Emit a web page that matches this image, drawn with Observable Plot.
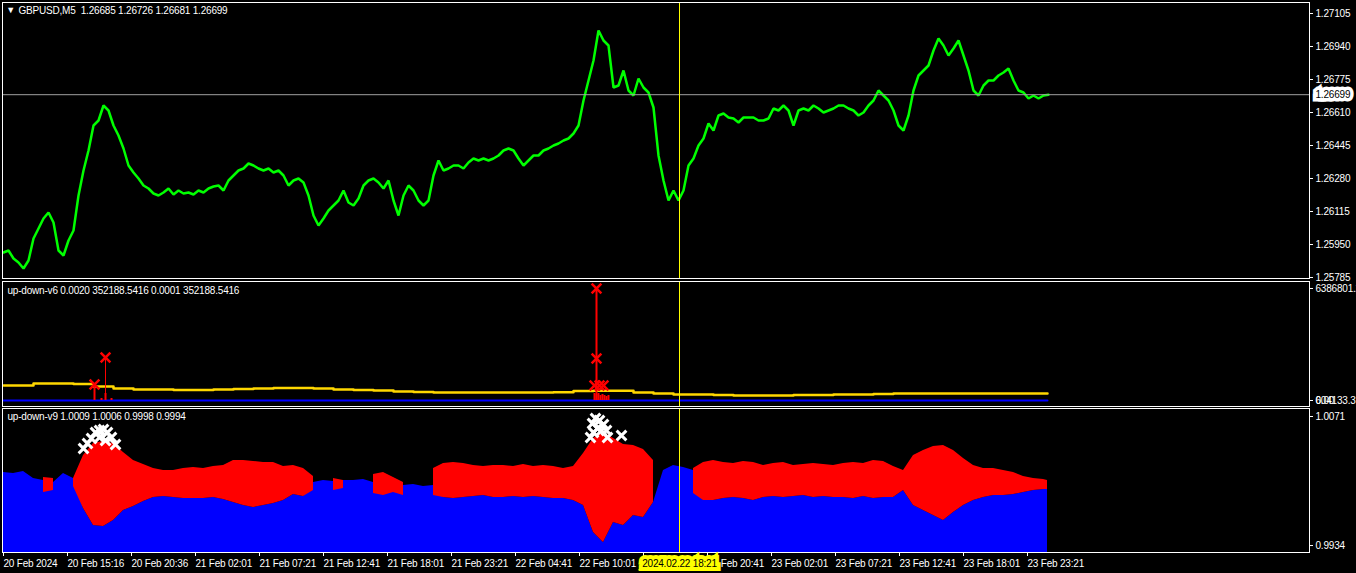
<!DOCTYPE html>
<html><head><meta charset="utf-8">
<script src="https://cdn.jsdelivr.net/npm/d3@7"></script>
<script src="https://cdn.jsdelivr.net/npm/@observablehq/plot@0.6"></script>
<style>
html,body{margin:0;padding:0;background:#000;overflow:hidden;}
#chart{position:relative;width:1356px;height:573px;background:#000;overflow:hidden;}
#chart svg{position:absolute;left:0;overflow:visible;}
#chart svg text{white-space:pre;letter-spacing:-0.2px;}
</style></head><body><div id="chart"></div>
<script>
// ---------- main pane: GBPUSD M5 ----------
const mainTitle = "GBPUSD,M5  1.26685 1.26726 1.26681 1.26699";
const priceBars = d3.range(210).map(k => 1 + 5 * k);
const priceClose = [
1.25910,1.25920,1.25880,1.25860,1.25830,1.25870,1.25980,1.26030,1.26080,1.26110,
1.26060,1.25920,1.25895,1.25970,1.26020,1.26195,1.26320,1.26420,1.26545,1.26570,
1.26645,1.26620,1.26545,1.26495,1.26430,1.26345,1.26310,1.26280,1.26245,1.26230,
1.26205,1.26195,1.26210,1.26230,1.26200,1.26220,1.26205,1.26210,1.26200,1.26220,
1.26210,1.26230,1.26240,1.26245,1.26220,1.26270,1.26295,1.26320,1.26330,1.26355,
1.26345,1.26330,1.26320,1.26330,1.26310,1.26320,1.26295,1.26245,1.26270,1.26280,
1.26260,1.26195,1.26095,1.26045,1.26080,1.26120,1.26145,1.26170,1.26220,1.26160,
1.26145,1.26180,1.26245,1.26270,1.26280,1.26260,1.26230,1.26270,1.26170,1.26095,
1.26195,1.26245,1.26220,1.26170,1.26145,1.26170,1.26295,1.26370,1.26320,1.26330,
1.26345,1.26345,1.26330,1.26360,1.26380,1.26370,1.26380,1.26370,1.26380,1.26395,
1.26420,1.26430,1.26420,1.26380,1.26345,1.26370,1.26395,1.26395,1.26420,1.26430,
1.26445,1.26455,1.26470,1.26480,1.26505,1.26545,1.26670,1.26770,1.26870,
1.27020,1.26970,1.26945,1.26735,1.26745,1.26820,1.26720,1.26695,1.26780,1.26735,
1.26710,1.26635,1.26395,1.26270,1.26170,1.26220,1.26170,1.26220,1.26345,1.26380,
1.26445,1.26480,1.26555,1.26520,1.26595,1.26605,1.26585,1.26580,1.26560,1.26585,
1.26585,1.26585,1.26570,1.26570,1.26580,1.26630,1.26620,1.26645,1.26620,1.26545,
1.26620,1.26630,1.26620,1.26645,1.26630,1.26610,1.26620,1.26630,1.26645,1.26645,
1.26630,1.26620,1.26595,1.26610,1.26645,1.26670,1.26720,1.26695,1.26670,1.26620,
1.26545,1.26520,1.26595,1.26720,1.26795,1.26820,1.26845,1.26920,1.26980,1.26945,
1.26895,1.26930,1.26970,1.26895,1.26820,1.26720,1.26695,1.26745,1.26770,1.26770,
1.26795,1.26810,1.26830,1.26770,1.26720,1.26710,1.26680,1.26695,1.26680,1.26695,
1.26699];
const priceTicks = [1.27105,1.26940,1.26775,1.26610,1.26445,1.26280,1.26115,1.25950,1.25785];
const lastPrice = 1.26699;
const crossBar = 677;
const crossLabel = "2024.02.22 18:21";

// ---------- pane 2: up-down-v6 ----------
const v6Title = "up-down-v6 0.0020 352188.5416 0.0001 352188.5416";
const v6YellowBars = d3.range(52).map(k => 1 + 20 * k).concat([1045]);
const v6Yellow = [855000,855000,969000,969000,941000,798000,684000,627000,627000,599000,
599000,627000,656000,684000,713000,713000,684000,627000,599000,570000,
513000,485000,456000,456000,456000,456000,456000,456000,473000,542000,
553000,553000,456000,399000,342000,342000,314000,285000,285000,285000,
314000,314000,342000,342000,371000,399000,399000,399000,399000,399000,
399000,399000,399000];
const v6BlueBars = [1, 1045];
const v6Blue = [0, 0];
const v6ThickBars = [92, 594];
const v6ThickVals = [912000, 6386801.2];
const v6ThinBars = [103];
const v6ThinVals = [2452000];
const v6HistBars = [99, 103, 109, 592, 594, 596, 598, 600, 602, 604, 606];
const v6HistVals = [114000, 399000, 114000, 399000, 342000, 399000, 285000, 342000, 285000, 228000, 285000];
const v6CrossBars = [92, 103, 594, 594, 592, 597, 601];
const v6CrossVals = [912000, 2452000, 6386801.2, 2395000, 855000, 855000, 855000];
const v6Ticks = [0, 6386801.2];
const v6TickText = ["0.00", "6386801.2"];
const v6Extra = "604133.3";

// ---------- pane 3: up-down-v9 ----------
const v9Title = "up-down-v9 1.0009 1.0006 0.9998 0.9994";
const v9Bars = d3.range(105).map(k => 1 + 10 * k).concat([1045]);
const v9Blue = [
1.00115,1.00105,1.00126,1.00052,1.00030,1.00009,1.00105,1.00052,0.99733,0.99552,
0.99542,0.99606,0.99712,0.99754,0.99807,0.99850,0.99860,0.99850,0.99839,0.99839,
0.99839,0.99850,0.99829,0.99797,0.99765,0.99744,0.99765,0.99786,0.99818,0.99882,
0.99860,1.00009,1.00030,1.00020,1.00030,1.00030,1.00041,1.00009,1.00009,0.99998,
0.99977,0.99988,0.99967,0.99977,0.99850,0.99839,0.99850,0.99860,0.99871,0.99850,
0.99850,0.99860,0.99850,0.99860,0.99850,0.99839,0.99839,0.99818,0.99765,0.99478,
0.99372,0.99584,0.99552,0.99659,0.99637,0.99797,1.00137,1.00190,1.00168,1.00137,
0.99818,0.99818,0.99839,0.99850,0.99839,0.99818,0.99850,0.99860,0.99850,0.99860,
0.99871,0.99850,0.99860,0.99850,0.99850,0.99839,0.99860,0.99839,0.99850,0.99850,
0.99924,0.99765,0.99712,0.99659,0.99606,0.99690,0.99765,0.99818,0.99850,0.99871,
0.99871,0.99882,0.99903,0.99924,0.99935,0.99935];
const v9RedHigh = [
null,null,null,null,1.00062,1.00052,null,1.00052,1.00296,1.00423,
1.00445,1.00423,1.00328,1.00243,1.00200,1.00158,1.00137,1.00137,1.00158,1.00168,
1.00158,1.00179,1.00190,1.00243,1.00243,1.00232,1.00222,1.00222,1.00179,1.00190,
1.00158,1.00073,null,1.00052,1.00030,null,null,1.00094,1.00115,1.00062,
1.00009,null,null,1.00158,1.00211,1.00222,1.00211,1.00190,1.00179,1.00190,
1.00190,1.00179,1.00200,1.00179,1.00190,1.00179,1.00158,1.00179,1.00317,1.00476,
1.00540,1.00476,1.00413,1.00402,1.00360,1.00243,null,null,null,1.00158,
1.00222,1.00243,1.00222,1.00211,1.00232,1.00222,1.00190,1.00211,1.00222,1.00190,
1.00200,1.00211,1.00200,1.00190,1.00211,1.00222,1.00211,1.00243,1.00232,1.00179,
1.00137,1.00296,1.00349,1.00391,1.00402,1.00349,1.00264,1.00190,1.00158,1.00158,
1.00137,1.00115,1.00073,1.00052,1.00041,1.00030];
const v9RedLow = [
null,null,null,null,0.99903,0.99924,null,0.99967,0.99733,0.99552,
0.99542,0.99606,0.99712,0.99754,0.99807,0.99850,0.99860,0.99850,0.99839,0.99839,
0.99839,0.99850,0.99829,0.99797,0.99765,0.99744,0.99765,0.99786,0.99818,0.99882,
0.99860,0.99924,null,0.99924,0.99945,null,null,0.99892,0.99871,0.99903,
0.99871,null,null,0.99871,0.99850,0.99839,0.99850,0.99860,0.99871,0.99850,
0.99850,0.99860,0.99850,0.99860,0.99850,0.99839,0.99839,0.99818,0.99765,0.99478,
0.99372,0.99584,0.99552,0.99659,0.99637,0.99797,null,null,null,0.99892,
0.99818,0.99818,0.99839,0.99850,0.99839,0.99818,0.99850,0.99860,0.99850,0.99860,
0.99871,0.99850,0.99860,0.99850,0.99850,0.99839,0.99860,0.99839,0.99850,0.99850,
0.99924,0.99765,0.99712,0.99659,0.99606,0.99690,0.99765,0.99818,0.99850,0.99871,
0.99871,0.99882,0.99903,0.99924,0.99935,0.99935];
const v9CrossBars = [81,85,89,93,97,101,105,109,113,97,103, 588,590,593,597,601,599,595,604,605,619,591];
const v9CrossVals = [1.00370,1.00423,1.00476,1.00540,1.00561,1.00572,1.00540,1.00487,1.00413,1.00487,1.00455,
1.00487,1.00636,1.00689,1.00668,1.00625,1.00561,1.00583,1.00561,1.00487,1.00508,1.00540];
const v9Ticks = [1.0071, 0.9934];

// ---------- time axis ----------
const timeTickBars = d3.range(17).map(k => 1 + 64 * k);
const timeTickLabels = ["20 Feb 2024","20 Feb 15:16","20 Feb 20:36","21 Feb 02:01","21 Feb 07:21",
"21 Feb 12:41","21 Feb 18:01","21 Feb 23:21","22 Feb 04:41","22 Feb 10:01","22 Feb 15:21",
"22 Feb 20:41","23 Feb 02:01","23 Feb 07:21","23 Feb 12:41","23 Feb 18:01","23 Feb 23:21"];

// ---------- build ----------
const FONT = "'Liberation Sans', Arial, sans-serif";
const GREEN = "#00ff00", GOLD = "#ffd700", BLUE = "#0000ff", RED = "#ff0000", CROSS = "#ffff00";
const xDomain = [0, 1307];
const zip = (xs, ys) => xs.map((x, i) => ({x, y: ys[i]}));

function pane(top, height, mt, mb, yDomain, marks, showX) {
  const svg = Plot.plot({
    width: 1356, height, marginLeft: 2, marginRight: 47, marginTop: mt, marginBottom: mb,
    x: showX ? {domain: xDomain} : {domain: xDomain, axis: null},
    y: {domain: yDomain},
    style: {background: "transparent", color: "white", fontFamily: FONT, fontSize: "10px", overflow: "visible"},
    marks
  });
  svg.style.top = top + "px";
  document.getElementById("chart").appendChild(svg);
}

const rightAxis = (ticks, fmt) => Plot.axisY({anchor: "right", ticks, tickFormat: fmt, tickSize: 3, tickPadding: 3,
  stroke: "white", fill: "white", label: null});
const title = (txt, dx, dy) => Plot.text([txt], {frameAnchor: "top-left", dx, dy, textAnchor: "start",
  lineAnchor: "middle", fill: "white"});

// main pane
pane(0, 280, 2, 2, [1.2578, 1.2716], [
  Plot.line(zip(priceBars, priceClose), {x: "x", y: "y", stroke: GREEN, strokeWidth: 2.5, strokeLinejoin: "miter"}),
  Plot.ruleY([lastPrice], {stroke: "#a0a0a0"}),
  Plot.ruleX([crossBar], {stroke: CROSS}),
  Plot.frame({stroke: "white"}),
  rightAxis(priceTicks, d => d.toFixed(5)),
  Plot.text([lastPrice], {y: d => d, text: d => d.toFixed(5), frameAnchor: "right", dx: 6, textAnchor: "start",
    lineAnchor: "middle", fill: "black", stroke: "white", strokeWidth: 7, strokeLinejoin: "miter", paintOrder: "stroke"}),
  Plot.text(["▼"], {frameAnchor: "top-left", dx: 8, dy: 8, fontSize: 9, lineAnchor: "middle", textAnchor: "middle", fill: "white"}),
  title(mainTitle, 16, 8)
]);

// pane 2
pane(279, 129, 2, 2, [-342150, 6785975], [
  Plot.line(zip(v6YellowBars, v6Yellow), {x: "x", y: "y", stroke: GOLD, strokeWidth: 2.5, curve: "step"}),
  Plot.line(zip(v6BlueBars, v6Blue), {x: "x", y: "y", stroke: BLUE, strokeWidth: 2}),
  Plot.ruleX(zip(v6HistBars, v6HistVals), {x: "x", y1: 0, y2: "y", stroke: RED, strokeWidth: 2}),
  Plot.ruleX(zip(v6ThickBars, v6ThickVals), {x: "x", y1: 0, y2: "y", stroke: RED, strokeWidth: 2}),
  Plot.ruleX(zip(v6ThinBars, v6ThinVals), {x: "x", y1: 0, y2: "y", stroke: RED, strokeWidth: 1}),
  Plot.dot(zip(v6CrossBars, v6CrossVals), {x: "x", y: "y", symbol: "times", r: 4.5, stroke: RED, strokeWidth: 2.5}),
  Plot.ruleX([crossBar], {stroke: CROSS}),
  Plot.frame({stroke: "white"}),
  Plot.text([0], {y: d => d, text: () => v6Extra, frameAnchor: "right", dx: 6, textAnchor: "start", lineAnchor: "middle", fill: "white"}),
  rightAxis(v6Ticks, d => v6TickText[v6Ticks.indexOf(d)]),
  title(v6Title, 5, 9)
]);

// pane 3
const v9Data = v9Bars.map((b, i) => ({x: b, blue: v9Blue[i], hi: v9RedHigh[i], lo: v9RedLow[i]}));
const v9Min = 0.99266;
pane(406, 167, 2, 21, [v9Min, 1.00795], [
  Plot.areaY(v9Data, {x: "x", y1: v9Min, y2: "blue", fill: BLUE}),
  Plot.areaY(v9Data, {x: "x", y1: "lo", y2: "hi", fill: RED}),
  Plot.dot(zip(v9CrossBars, v9CrossVals), {x: "x", y: "y", symbol: "times", r: 4.5, stroke: "white", strokeWidth: 3}),
  Plot.ruleX([crossBar], {stroke: CROSS}),
  Plot.frame({stroke: "white"}),
  rightAxis(v9Ticks, d => d.toFixed(4)),
  Plot.axisX({anchor: "bottom", ticks: timeTickBars, tickFormat: d => timeTickLabels[timeTickBars.indexOf(d)],
    tickSize: 4, tickPadding: 3, textAnchor: "start", stroke: "white", fill: "white", label: null}),
  Plot.text([crossBar], {x: d => d, text: () => crossLabel, frameAnchor: "bottom", dy: 11, lineAnchor: "middle",
    fill: "black", stroke: CROSS, strokeWidth: 8, strokeLinejoin: "miter", paintOrder: "stroke"}),
  title(v9Title, 5, 8)
], true);
</script></body></html>
